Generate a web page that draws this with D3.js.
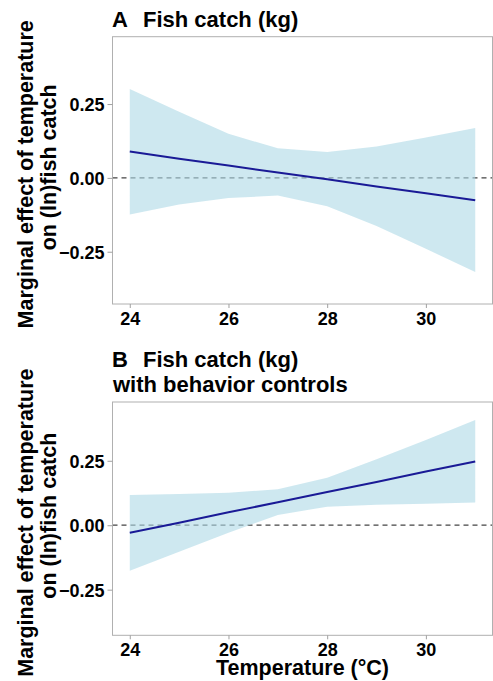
<!DOCTYPE html>
<html>
<head>
<meta charset="utf-8">
<script src="https://cdn.jsdelivr.net/npm/d3@7"></script>
<style>
  html, body { margin: 0; padding: 0; background: #fff; }
  svg { display: block; }
  text { font-family: "Liberation Sans", Arial, Helvetica, sans-serif; font-weight: bold; fill: #000; }
</style>
</head>
<body>
<svg id="chart" width="493" height="681"></svg>
<script>
// Temperature grid (°C) at which marginal effects are evaluated
const temps = [24, 25, 26, 27, 28, 29, 30, 31];

// Panel A: fish catch (kg)
const catchEst   = [0.089, 0.065, 0.042, 0.018, -0.005, -0.029, -0.052, -0.076];
const catchUpper = [0.301, 0.224, 0.149, 0.100, 0.088, 0.106, 0.137, 0.169];
const catchLower = [-0.124, -0.090, -0.068, -0.060, -0.096, -0.163, -0.240, -0.319];

// Panel B: fish catch (kg) with behavior controls
const ctrlEst   = [-0.029, 0.010, 0.050, 0.089, 0.129, 0.168, 0.208, 0.247];
const ctrlUpper = [0.117, 0.121, 0.126, 0.140, 0.184, 0.256, 0.331, 0.408];
const ctrlLower = [-0.177, -0.103, -0.029, 0.040, 0.072, 0.079, 0.083, 0.088];

// Axis ticks
const xTicks = [24, 26, 28, 30];
const yTicks = [-0.25, 0, 0.25];

const yTitleLines = ["Marginal effect of temperature", "on (ln)fish catch"];
const xTitle = "Temperature (°C)";

const panels = [
  { tag: "A", title: ["Fish catch (kg)"], est: catchEst, upper: catchUpper, lower: catchLower,
    top: 36.7, bottom: 304, titleY: 26.7, xTitle: false },
  { tag: "B", title: ["Fish catch (kg)", "with behavior controls"], est: ctrlEst, upper: ctrlUpper, lower: ctrlLower,
    top: 402, bottom: 635.3, titleY: 366.7, xTitle: true }
];

const svg = d3.select("#chart");
const left = 112.5, right = 492.5;

// ggplot-style 5% expansion of the temperature range
const x = d3.scaleLinear().domain([23.65, 31.35]).range([left, right]);
const yDomain = [-0.427, 0.478];

const fmtY = v => (v < 0 ? "\u2212" : "") + Math.abs(v).toFixed(2);

panels.forEach(p => {
  const y = d3.scaleLinear().domain(yDomain).range([p.bottom, p.top]);
  const g = svg.append("g");
  const rows = temps.map((t, i) => ({ t, est: p.est[i], lo: p.lower[i], hi: p.upper[i] }));

  // zero reference line
  g.append("line")
    .attr("x1", left).attr("x2", right)
    .attr("y1", y(0)).attr("y2", y(0))
    .attr("stroke", "#444").attr("stroke-width", 1.3)
    .attr("stroke-dasharray", "5,4");

  // confidence band
  g.append("path")
    .datum(rows)
    .attr("d", d3.area().x(d => x(d.t)).y0(d => y(d.lo)).y1(d => y(d.hi)))
    .attr("fill", "#add8e6").attr("fill-opacity", 0.6);

  // point estimate
  g.append("path")
    .datum(rows)
    .attr("d", d3.line().x(d => x(d.t)).y(d => y(d.est)))
    .attr("fill", "none").attr("stroke", "#1a1a96").attr("stroke-width", 2);

  // panel border
  g.append("rect")
    .attr("x", left).attr("y", p.top)
    .attr("width", right - left).attr("height", p.bottom - p.top)
    .attr("fill", "none").attr("stroke", "#b0b0b0").attr("stroke-width", 1);

  // axes
  const yAxis = g.append("g").attr("transform", `translate(${left},0)`)
    .call(d3.axisLeft(y).tickValues(yTicks).tickFormat(fmtY).tickSize(5).tickPadding(3));
  const xAxis = g.append("g").attr("transform", `translate(0,${p.bottom})`)
    .call(d3.axisBottom(x).tickValues(xTicks).tickFormat(d3.format("d")).tickSize(4).tickPadding(4.2));
  [yAxis, xAxis].forEach(a => {
    a.select(".domain").remove();
    a.selectAll(".tick line").attr("stroke", "#a0a0a0");
    a.selectAll(".tick text").attr("font-size", 18)
      .attr("font-family", "'Liberation Sans', Arial, sans-serif").attr("font-weight", "bold").attr("fill", "#000");
  });
  yAxis.selectAll(".tick text").attr("dy", "0.36em");

  // panel tag and title
  g.append("text").attr("x", 112).attr("y", p.titleY).attr("font-size", 22).text(p.tag);
  p.title.forEach((t, i) => {
    g.append("text")
      .attr("x", i === 0 ? 143 : 113)
      .attr("y", p.titleY + i * 25)
      .attr("font-size", 22).text(t);
  });

  // y-axis title (two lines, rotated)
  const mid = (p.top + p.bottom) / 2;
  const lineX = [33, 55.5];
  const lineOff = [4, -3];
  yTitleLines.forEach((t, i) => {
    g.append("text")
      .attr("transform", `translate(${lineX[i]},${mid + lineOff[i]}) rotate(-90)`)
      .attr("text-anchor", "middle")
      .attr("font-size", 21.5).text(t);
  });

  if (p.xTitle) {
    g.append("text")
      .attr("x", (left + right) / 2).attr("y", 675)
      .attr("text-anchor", "middle").attr("font-size", 21.5).text(xTitle);
  }
});
</script>
</body>
</html>
